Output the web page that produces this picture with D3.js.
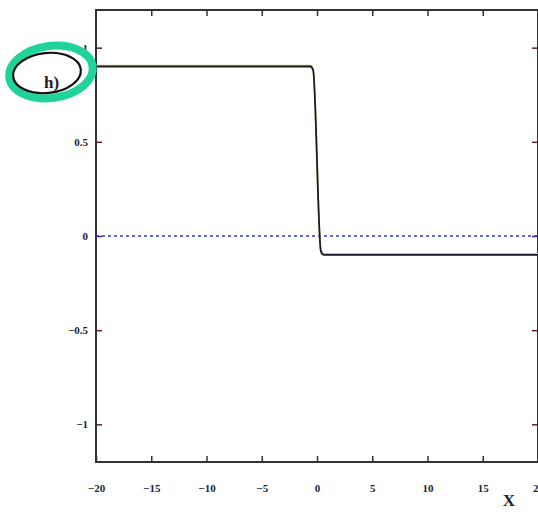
<!DOCTYPE html>
<html>
<head>
<meta charset="utf-8">
<script src="https://cdn.jsdelivr.net/npm/d3@7"></script>
<style>
  body { margin: 0; background: #fff; }
  svg { display: block; }
  .tick text { font-family: "Liberation Serif", "DejaVu Serif", serif; font-weight: bold; font-size: 11px; fill: #223; }
</style>
</head>
<body>
<svg id="chart" width="538" height="512"></svg>
<script>
'use strict'

// step curve
const stepX = [-20, -0.6, -0.35, 0.35, 0.6, 20]
const stepY = [0.9, 0.9, 0.88, -0.08, -0.1, -0.1]
const xTicks = [-20, -15, -10, -5, 0, 5, 10, 15, 20]
const yTicks = [-1, -0.5, 0, 0.5, 1]
const xDomain = [-20, 20]
const yDomain = [-1.2, 1.2]

const svg = d3.select('#chart')
const plotLeft = 96
const plotRight = 538
const plotTop = 10
const plotBottom = 462

const x = d3.scaleLinear().domain(xDomain).range([plotLeft, plotRight])
const y = d3.scaleLinear().domain(yDomain).range([plotBottom, plotTop])

// frame
svg.append('rect')
  .attr('x', plotLeft).attr('y', plotTop)
  .attr('width', plotRight - plotLeft).attr('height', plotBottom - plotTop)
  .attr('fill', 'none')
  .attr('stroke', '#333')
  .attr('stroke-width', 2)

const fmt = d => d3.format('')(d).replace('-', '\u2212')

// bottom axis (labels outside, ticks inward)
const xAxis = svg.append('g')
  .attr('transform', `translate(0,${plotBottom})`)
  .call(d3.axisBottom(x).tickValues(xTicks).tickSizeInner(-6).tickSizeOuter(0)
    .tickPadding(22).tickFormat(fmt))
xAxis.select('.domain').remove()
xAxis.selectAll('.tick line').attr('stroke', '#333').attr('stroke-width', 1.5)

// top ticks
const xTop = svg.append('g')
  .attr('transform', `translate(0,${plotTop})`)
  .call(d3.axisTop(x).tickValues(xTicks.slice(1, -1)).tickSizeInner(-6).tickSizeOuter(0).tickFormat(''))
xTop.select('.domain').remove()
xTop.selectAll('.tick line').attr('stroke', '#333').attr('stroke-width', 1.5)

// left axis
const yAxis = svg.append('g')
  .attr('transform', `translate(${plotLeft},0)`)
  .call(d3.axisLeft(y).tickValues(yTicks).tickSizeInner(-6).tickSizeOuter(0)
    .tickPadding(8).tickFormat(fmt))
yAxis.select('.domain').remove()
yAxis.selectAll('.tick line').attr('stroke', '#5a2030').attr('stroke-width', 1.5)

// right ticks
const yRight = svg.append('g')
  .attr('transform', `translate(${plotRight},0)`)
  .call(d3.axisRight(y).tickValues(yTicks).tickSizeInner(-6).tickSizeOuter(0).tickFormat(''))
yRight.select('.domain').remove()
yRight.selectAll('.tick line').attr('stroke', '#5a2030').attr('stroke-width', 1.5)

// zero reference line
svg.append('line')
  .attr('x1', x(xDomain[0])).attr('x2', x(xDomain[1]))
  .attr('y1', y(0)).attr('y2', y(0))
  .attr('stroke', '#2a3bd0')
  .attr('stroke-width', 1.6)
  .attr('stroke-dasharray', '3,3')

// step curve: faint yellow halo above, dark line on top
const pts = stepX.map((v, i) => [v, stepY[i]])
const line = d3.line().x(d => x(d[0])).y(d => y(d[1])).curve(d3.curveMonotoneX)
svg.append('path')
  .datum(pts)
  .attr('d', line)
  .attr('transform', 'translate(0,-1)')
  .attr('fill', 'none')
  .attr('stroke', '#d8c650')
  .attr('stroke-width', 1.6)
svg.append('path')
  .datum(pts)
  .attr('d', line)
  .attr('fill', 'none')
  .attr('stroke', '#1a1a2a')
  .attr('stroke-width', 1.8)

// axis label
svg.append('text')
  .attr('x', 509).attr('y', 506)
  .attr('text-anchor', 'middle')
  .attr('font-family', '"Liberation Serif", serif')
  .attr('font-weight', 'bold')
  .attr('font-size', 17)
  .attr('fill', '#223')
  .text('X')

// hand-drawn "h)" marking
svg.append('ellipse')
  .attr('cx', 51).attr('cy', 72).attr('rx', 42).attr('ry', 26)
  .attr('transform', 'rotate(-8,51,72)')
  .attr('fill', 'none')
  .attr('stroke', '#1fd39a')
  .attr('stroke-width', 8)
svg.append('ellipse')
  .attr('cx', 47).attr('cy', 73).attr('rx', 34).attr('ry', 20)
  .attr('transform', 'rotate(-6,47,73)')
  .attr('fill', 'none')
  .attr('stroke', '#111')
  .attr('stroke-width', 2.2)
svg.append('text')
  .attr('x', 44).attr('y', 88)
  .attr('font-family', '"Liberation Serif", serif')
  .attr('font-weight', 'bold')
  .attr('font-size', 17)
  .attr('fill', '#222')
  .text('h)')
</script>
</body>
</html>
